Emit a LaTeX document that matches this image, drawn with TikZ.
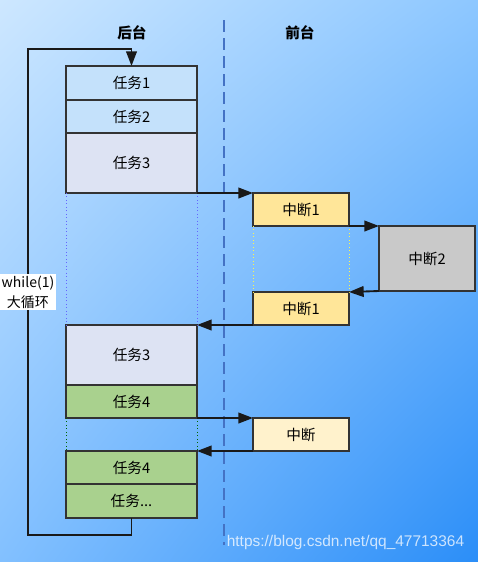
\documentclass[tikz,border=0pt]{standalone}
\usepackage{fontspec}
\setmainfont{Noto Sans CJK SC}
\newfontfamily\urlfont{Liberation Sans}
\usetikzlibrary{arrows.meta,positioning,shadings}
\newlength{\px}
\setlength{\px}{0.75pt}
\definecolor{bgtl}{HTML}{CDE7FF}
\definecolor{bgtr}{HTML}{8DC7FF}
\definecolor{bgbl}{HTML}{82C0FF}
\definecolor{bgbr}{HTML}{2B8EF8}
\definecolor{taskblue}{HTML}{C4E1FB}
\definecolor{tasklav}{HTML}{DDE3F3}
\definecolor{taskgreen}{HTML}{A9D18E}
\definecolor{irqyellow}{HTML}{FFE699}
\definecolor{irqgray}{HTML}{C9C9C9}
\definecolor{irqpale}{HTML}{FFF2CC}
\definecolor{splitline}{HTML}{4472C4}
\tikzset{
  box/.style={draw=black!80, line width=1pt, font=\fontsize{11}{13}\selectfont, inner sep=0pt, outer sep=0pt},
  task/.style={box, minimum width=131\px},
  irq/.style={box, minimum width=96\px},
  arr/.style={-{Triangle[length=11pt,width=8pt]}, line width=1.4pt, black!90},
  gap/.style={dotted, line width=0.6pt}
}

\begin{document}
\begin{tikzpicture}[x=0.75pt,y=-0.75pt]
 % background
 \shade[upper left=bgtl, upper right=bgtr, lower left=bgbl, lower right=bgbr] (0,0) rectangle (478,562);
 \useasboundingbox (0,0) rectangle (478,562);

 % split between background and foreground
 \coordinate (dtop) at (224,20);
 \coordinate (dbot) at (224,545);
 \draw[splitline, line width=1.2pt, dash pattern=on 9pt off 4.5pt] (dtop) -- (dbot);

 \node[font=\fontsize{11}{13}\selectfont\bfseries] (back) at (132,33) {后台};
 \node[font=\fontsize{11}{13}\selectfont\bfseries] (front) at (300,33) {前台};

 % tasks
 \node[task, fill=taskblue, minimum height=34\px] (t1) at (131.5,83) {任务1};
 \node[task, fill=taskblue, minimum height=33\px] (t2) at (131.5,116.5) {任务2};
 \node[task, fill=tasklav, minimum height=60\px] (t3) at (131.5,163) {任务3};
 \node[task, fill=tasklav, minimum height=60\px] (t3b) at (131.5,355) {任务3};
 \node[task, fill=taskgreen, minimum height=33\px] (t4) at (131.5,401.5) {任务4};
 \node[task, fill=taskgreen, minimum height=33\px] (t4b) at (131.5,467.5) {任务4};
 \node[task, fill=taskgreen, minimum height=34\px] (t5) at (131.5,501) {任务...};

 % interrupts
 \node[irq, fill=irqyellow, minimum height=33\px] (i1) at (301,209.5) {中断1};
 \node[irq, fill=irqgray, minimum height=65\px] (i2) at (427,258.5) {中断2};
 \node[irq, fill=irqyellow, minimum height=33\px] (i1b) at (301,308.5) {中断1};
 \node[irq, fill=irqpale, minimum height=33\px] (i3) at (301,434.5) {中断};

 \draw[gap, blue!60] (t3.south west) -- (t3b.north west) (t3.south east) -- (t3b.north east);
 \draw[gap, yellow!70] (i1.south west) -- (i1b.north west) (i1.south east) -- (i1b.north east);
 \draw[gap, green!40!black] (t4.south west) -- (t4b.north west) (t4.south east) -- (t4b.north east);

 \draw[arr] (t3.south east) -- (i1.north west);
 \draw[arr] (i1.south east) -- (i2.north west);
 \draw[arr] (i2.south west) -- (i1b.north east);
 \draw[arr] (i1b.south west) -- (t3b.north east);
 \draw[arr] (t4.south east) -- (i3.north west);
 \draw[arr] (i3.south west) -- (t4b.north east);

 % main loop
 \coordinate (lb) at (28,535);
 \coordinate (lt) at (28,49);
 \draw[arr] (t5.south) |- (lb) -- (lt) -| (t1.north);
 \node[fill=white, inner sep=1.5pt, align=center, font=\fontsize{10.5}{15}\selectfont] (loop) at (28,292) {while(1)\\大循环};

 \node[white, opacity=0.75, font=\urlfont\fontsize{11.6}{13}\selectfont] (url) at (345.5,542) {https://blog.csdn.net/qq\_47713364};
\end{tikzpicture}
\end{document}
